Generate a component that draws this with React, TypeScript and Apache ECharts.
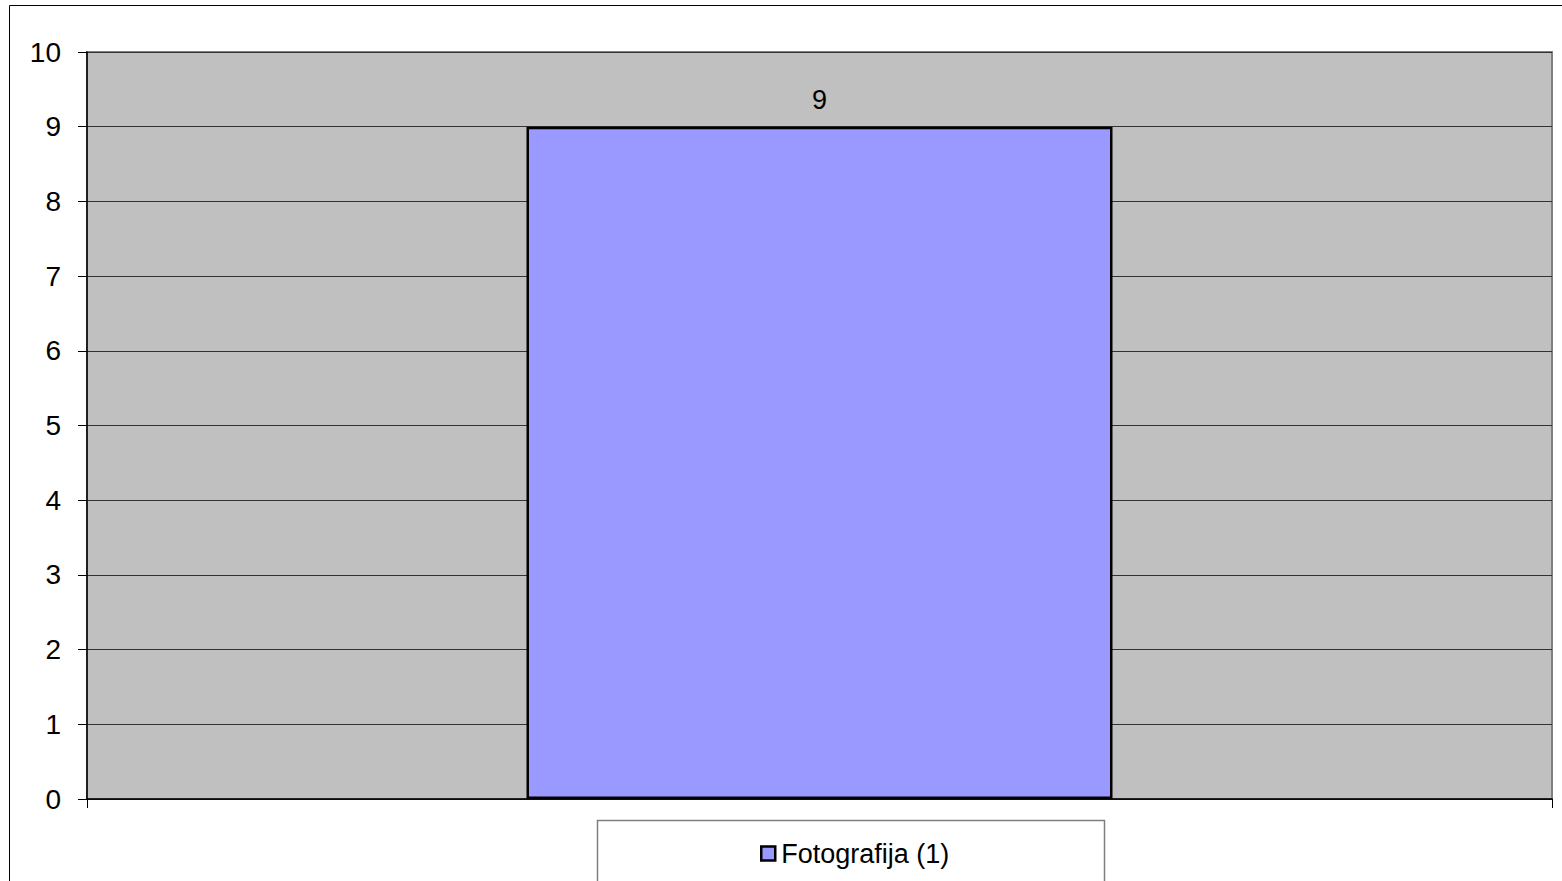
import React, { useEffect, useRef } from "react";
import * as echarts from "echarts";

const categories: string[] = ["Fotografija (1)"];
const seriesName = "Fotografija (1)";
const values: number[] = [9];
const yTicks = { min: 0, max: 10, interval: 1 };

export default function App() {
  const ref = useRef<HTMLDivElement>(null);
  useEffect(() => {
    if (!ref.current) return;
    const chart = echarts.init(ref.current, null, { renderer: "svg" });
    chart.setOption({
      animation: false,
      backgroundColor: "#ffffff",
      textStyle: { fontFamily: "Liberation Sans, Arial, sans-serif" },
      graphic: [
        {
          type: "rect",
          z: -10,
          shape: { x: 9.5, y: 5.5, width: 1600, height: 1000 },
          style: { fill: "none", stroke: "#000", lineWidth: 1 },
        },
        {
          type: "rect",
          z: 0,
          shape: { x: 597.5, y: 820.5, width: 507, height: 100 },
          style: { fill: "#fff", stroke: "#808080", lineWidth: 1.5 },
        },
      ],
      grid: {
        left: 87,
        top: 52,
        right: 10,
        bottom: 82,
        show: true,
        backgroundColor: "#C0C0C0",
        borderColor: "#808080",
        borderWidth: 2,
      },
      legend: {
        show: true,
        left: 760,
        top: 840,
        padding: 0,
        icon: "rect",
        itemWidth: 14,
        itemHeight: 14,
        itemGap: 10,
        z: 10,
        itemStyle: { borderColor: "#000", borderWidth: 2.5 },
        textStyle: { fontSize: 27, color: "#000", fontFamily: "Liberation Sans, Arial, sans-serif", padding: [0, 0, 0, 1] },
        data: [seriesName],
      },
      xAxis: {
        type: "category",
        data: categories,
        axisLine: { lineStyle: { color: "#000", width: 1.5 } },
        axisTick: { show: true, alignWithLabel: false, length: 9, lineStyle: { color: "#000" } },
        axisLabel: { show: false },
        splitLine: { show: false },
      },
      yAxis: {
        type: "value",
        min: yTicks.min,
        max: yTicks.max,
        interval: yTicks.interval,
        axisLine: { show: true, lineStyle: { color: "#000", width: 1.5 } },
        axisTick: { show: true, length: 9, lineStyle: { color: "#000" } },
        axisLabel: { fontSize: 28, color: "#000", margin: 26, fontFamily: "Liberation Sans, Arial, sans-serif" },
        splitLine: { show: true, lineStyle: { color: "#333333", width: 1 } },
      },
      series: [
        {
          name: seriesName,
          type: "bar",
          data: values,
          barWidth: "40%",
          itemStyle: { color: "#9999FF", borderColor: "#000", borderWidth: 2.5 },
          label: {
            show: true,
            position: "top",
            distance: 13,
            fontSize: 27,
            color: "#000",
            fontFamily: "Liberation Sans, Arial, sans-serif",
          },
        },
      ],
    });
    return () => chart.dispose();
  }, []);
  return (
    <div
      ref={ref}
      style={{ position: "fixed", left: 0, top: 0, width: 1562, height: 881 }}
    />
  );
}
